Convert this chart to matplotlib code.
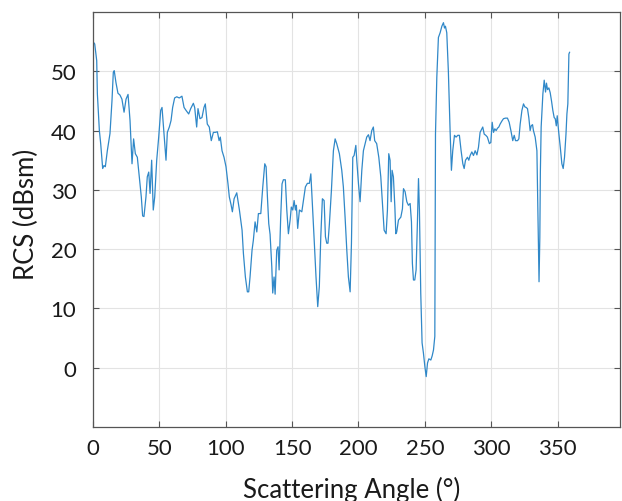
import matplotlib
matplotlib.use("Agg")
import matplotlib.pyplot as plt
import numpy as np

# values
angle = [0, 1.3, 2.8, 3.3, 4.8, 5.8, 7.3, 8.3, 9.3, 10.8, 12.8, 14.3, 15.3, 16.0,
         17.3, 18.8, 20.3, 21.8, 23.4, 24.9, 26.4, 27.9, 29.4, 30.6, 31.9, 33.4,
         34.9, 36.4, 37.4, 38.4, 39.9, 40.9, 42.0, 43.0, 44.2, 45.4, 46.5, 48.0,
         49.5, 51.0, 52.0, 53.5, 55.0, 56.0, 57.5, 58.8, 60.0, 61.5, 63.1, 65.0,
         67.0, 68.6, 70.1, 72.1, 73.6, 75.6, 76.6, 78.1, 79.1, 80.6, 82.1, 83.6,
         84.6, 86.1, 87.6, 89.1, 90.7, 92.2, 93.7, 95.0, 95.9, 97.2, 98.7, 100.2,
         101.7, 102.7, 104.0, 105.0, 106.3, 108.3, 110.3, 112.3, 113.3, 114.8,
         116.3, 117.3, 118.3, 119.8, 120.8, 122.1, 123.4, 124.6, 126.4, 127.9,
         129.4, 130.4, 131.4, 132.4, 133.4, 134.7, 135.4, 136.4, 137.2, 138.4,
         139.4, 140.2, 141.4, 142.4, 143.4, 144.9, 146.0, 147.2, 148.5, 149.4,
         150.5, 151.5, 152.5, 153.2, 154.2, 155.5, 157.3, 158.5, 160.0, 161.5,
         163.0, 164.1, 165.0, 166.5, 168.0, 169.3, 170.5, 171.6, 172.8, 174.1,
         175.1, 176.1, 177.0, 178.1, 179.6, 181.1, 182.4, 183.6, 185.6, 187.4,
         188.6, 189.9, 191.2, 192.4, 193.7, 194.7, 195.7, 196.7, 198.0, 198.7,
         200.0, 201.2, 202.5, 203.7, 205.0, 206.2, 207.5, 208.7, 210.0, 211.2,
         212.2, 213.7, 215.3, 216.8, 218.0, 219.3, 220.8, 221.8, 222.8, 223.8,
         224.6, 225.3, 226.3, 227.4, 228.1, 228.8, 230.1, 231.9, 233.1, 233.9,
         235.1, 236.4, 237.6, 238.9, 239.9, 240.6, 241.4, 242.4, 243.4, 244.4,
         245.2, 245.9, 246.9, 247.9, 248.9, 250.0, 251.0, 252.0, 253.0, 254.5,
         255.5, 256.5, 257.5, 258.0, 259.0, 260.2, 261.5, 262.8, 264.0, 264.8,
         265.5, 266.5, 267.7, 269.0, 270.0, 271.0, 272.3, 273.5, 274.8, 276.0,
         277.3, 278.6, 279.6, 280.6, 282.1, 283.1, 284.1, 285.4, 286.6, 287.9,
         289.2, 290.4, 291.6, 292.9, 293.6, 294.7, 295.9, 297.1, 298.6, 299.7,
         300.7, 301.7, 302.7, 303.7, 304.7, 305.7, 306.7, 308.0, 309.2, 310.7,
         312.2, 313.5, 314.8, 316.2, 317.3, 318.3, 319.8, 320.8, 321.8, 323.1,
         324.3, 325.3, 326.3, 327.3, 328.3, 329.3, 330.1, 331.1, 331.8, 333.1,
         334.4, 335.0, 336.0, 336.6, 337.0, 337.6, 338.9, 339.9, 340.9, 341.6,
         342.4, 343.4, 344.4, 345.4, 346.4, 347.4, 348.2, 349.0, 349.7, 350.7,
         352.0, 353.2, 354.2, 355.2, 356.3, 357.0, 357.7, 358.5, 359.0]
rcs = [55.0, 54.6, 51.8, 46.2, 40.0, 37.8, 33.6, 34.1, 33.9, 36.6, 39.5, 45.0, 49.8, 50.1,
       48.1, 46.3, 46.0, 45.3, 43.1, 45.3, 46.1, 41.7, 34.4, 38.6, 36.1, 35.5,
       32.2, 28.8, 25.6, 25.5, 28.8, 32.2, 33.0, 29.4, 35.0, 26.6, 28.8, 35.0,
       38.9, 43.4, 43.9, 39.5, 35.0, 39.7, 40.6, 41.7, 43.9, 45.5, 45.7, 45.5,
       45.8, 43.9, 43.4, 42.8, 43.7, 44.6, 43.9, 40.6, 43.7, 42.0, 42.2, 43.9,
       44.5, 41.1, 40.6, 38.3, 39.7, 39.7, 39.8, 38.3, 38.9, 36.6, 35.5, 33.9,
       31.0, 28.8, 27.5, 26.3, 28.5, 29.5, 26.6, 23.2, 19.3, 15.3,
       12.8, 12.8, 15.3, 19.8, 21.5, 24.6, 22.9, 26.0, 26.0, 30.5,
       34.4, 33.9, 28.8, 24.3, 22.5, 17.0, 12.6, 15.3, 12.4, 19.8,
       20.4, 16.5, 25.4, 31.0, 31.7, 31.7, 26.6, 22.6, 24.9, 27.1,
       26.6, 28.2, 26.6, 27.4, 23.5, 26.6, 26.3, 28.2, 30.5, 31.1,
       31.1, 32.7, 28.8, 22.1, 15.3, 10.3, 13.7, 22.1, 28.5, 28.2,
       22.1, 21.0, 21.0, 24.3, 29.9, 36.6, 38.6, 37.8, 36.1, 33.3,
       30.5, 25.4, 19.8, 15.3, 12.8, 21.0, 35.5, 35.8, 37.5, 35.0,
       31.0, 28.0, 33.3, 36.6, 37.8, 38.9, 39.3, 38.3, 40.0, 40.6,
       38.3, 37.8, 35.5, 32.2, 28.0, 23.2, 22.6, 26.6, 36.1, 35.0,
       28.0, 33.3, 32.2, 27.1, 22.6, 22.9, 24.9, 25.4, 26.8, 30.2,
       29.7, 28.0, 27.4, 27.7, 24.6, 17.6, 14.8, 14.8, 16.5, 24.6,
       31.9, 26.6, 12.6, 4.2, 2.5, 0.2, -1.5, 0.8, 1.5, 1.3,
       2.0, 3.0, 5.3, 39.4, 49.0, 55.7, 56.5, 57.6, 58.2, 57.3,
       57.6, 56.5, 50.0, 40.0, 33.3, 36.6, 39.2, 38.9, 39.2, 39.2,
       36.6, 34.4, 33.6, 35.0, 35.5, 35.0, 35.8, 36.4, 35.8, 36.6,
       35.9, 37.2, 39.7, 40.3, 40.6, 39.4, 39.2, 38.9, 37.8, 38.0,
       41.4, 39.7, 40.3, 40.0, 40.4, 40.6, 41.1, 41.6, 42.0, 42.1,
       42.1, 41.4, 40.0, 38.3, 39.2, 38.3, 38.3, 38.6, 41.1, 43.4,
       44.5, 44.0, 43.9, 43.7, 42.2, 40.0, 40.8, 41.0, 40.0, 38.9,
       36.6, 28.0, 14.5, 22.0, 33.0, 40.6, 46.2, 48.5, 46.5, 48.0,
       46.9, 47.2, 46.4, 45.0, 43.4, 42.2, 42.0, 40.8, 42.5, 40.0,
       37.2, 34.4, 33.6, 35.5, 39.4, 42.8, 44.5, 52.9, 53.2]

x_ticks = [0, 50, 100, 150, 200, 250, 300, 350]
y_ticks = [0, 10, 20, 30, 40, 50]

plt.rcParams['font.family'] = ['Lato', 'DejaVu Sans']

fig = plt.figure(figsize=(6.22, 5.02), dpi=100)
ax = fig.add_axes([0.1495, 0.1474, 0.8473, 0.8267])

ax.plot(angle, rcs, color='#3088c8', linewidth=0.9)

ax.set_xlim(0, 397)
ax.set_ylim(-10, 60)
ax.set_xticks(x_ticks)
ax.set_yticks(y_ticks)
ax.grid(True, color='#e3e3e3', linewidth=0.8)
ax.set_axisbelow(True)

for s in ax.spines.values():
    s.set_color('#555555')
    s.set_linewidth(0.9)

ax.tick_params(axis='both', direction='in', top=True, right=True,
               length=4, width=0.8, color='#555555',
               labelsize=16, labelcolor='#1a1a1a')
ax.tick_params(axis='x', pad=8)
ax.tick_params(axis='y', pad=12)

ax.set_xlabel('Scattering Angle (°)', fontsize=18.5, color='#1a1a1a')
ax.set_ylabel('RCS (dBsm)', fontsize=18.5, color='#1a1a1a')
ax.xaxis.set_label_coords(0.49, -0.149)
ax.xaxis.label.set_verticalalignment('center')
ax.yaxis.set_label_coords(-0.127, 0.515)
ax.yaxis.label.set_verticalalignment('center')

fig.savefig('out.png', dpi=100)
